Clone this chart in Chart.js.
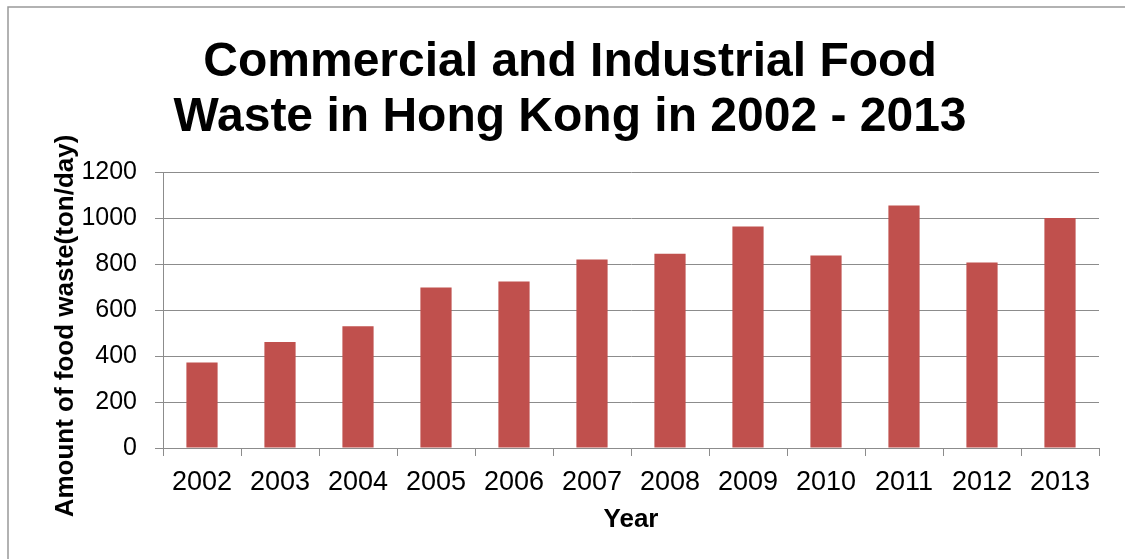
<!DOCTYPE html>
<html>
<head>
<meta charset="utf-8">
<script src="https://cdn.jsdelivr.net/npm/chart.js@4/dist/chart.umd.min.js"></script>
<style>
  html, body { margin: 0; padding: 0; background: #fff; }
  #wrap { width: 1125px; height: 559px; position: relative; }
</style>
</head>
<body>
<div id="wrap"><canvas id="chart"></canvas></div>
<script>
// food waste data, ton/day
const years = ['2002', '2003', '2004', '2005', '2006', '2007', '2008', '2009', '2010', '2011', '2012', '2013'];
const foodWaste = [372, 461, 529, 698, 724, 820, 845, 963, 837, 1054, 807, 1000];
const yTicks = [0, 200, 400, 600, 800, 1000, 1200];

const titleLines = ['Commercial and Industrial Food', 'Waste in Hong Kong in 2002 - 2013'];
const yTitle = 'Amount of food waste(ton/day)';

const FONT = '"Liberation Sans", Arial, sans-serif';
const GRID = '#8c8c8c';

// frame, two-line title and the rotated y title
const decor = {
  id: 'decor',
  beforeDraw(chart) {
    const c = chart.ctx;
    c.save();
    c.strokeStyle = '#999';
    c.lineWidth = 1.5;
    c.strokeRect(8, 7, 1300, 700);
    c.restore();
  },
  afterDraw(chart) {
    const c = chart.ctx;
    c.save();
    c.fillStyle = '#000';
    c.textAlign = 'center';
    c.textBaseline = 'alphabetic';
    c.font = 'bold 48px ' + FONT;
    c.fillText(titleLines[0], 570, 76);
    c.fillText(titleLines[1], 570, 131);

    c.translate(66, 326);
    c.rotate(-Math.PI / 2);
    c.textBaseline = 'middle';
    c.font = 'bold 26px ' + FONT;
    c.fillText(yTitle, 0, 0);
    c.restore();
  }
};

new Chart(document.getElementById('chart'), {
  type: 'bar',
  data: {
    labels: years,
    datasets: [{
      label: 'Food waste',
      data: foodWaste,
      backgroundColor: '#C0504D',
      borderWidth: 0,
      barPercentage: 0.4,
      categoryPercentage: 1,
    }]
  },
  options: {
    responsive: true,
    maintainAspectRatio: false,
    animation: false,
    layout: { padding: { left: 40, right: 26, top: 172, bottom: 0 } },
    scales: {
      x: {
        grid: { drawOnChartArea: false, color: GRID, tickLength: 8 },
        border: { color: GRID, width: 1 },
        ticks: { color: '#000', font: { family: FONT, size: 27 }, padding: 10, maxRotation: 0 },
        title: {
          display: true,
          text: 'Year',
          color: '#000',
          font: { family: FONT, size: 26, weight: 'bold' },
          padding: { top: 0, bottom: 24 }
        },
        afterFit(scale) { scale.height = 111; }
      },
      y: {
        min: 0,
        max: 1200,
        afterBuildTicks(scale) { scale.ticks = yTicks.map(v => ({ value: v })); },
        grid: { color: GRID, tickLength: 8 },
        border: { color: GRID, width: 1 },
        ticks: {
          color: '#000',
          font: { family: FONT, size: 25 },
          padding: 18,
          callback: v => String(v)
        },
        afterFit(scale) { scale.width = 123; }
      }
    },
    plugins: {
      legend: { display: false },
      tooltip: { enabled: false }
    }
  },
  plugins: [decor]
});
</script>
</body>
</html>
